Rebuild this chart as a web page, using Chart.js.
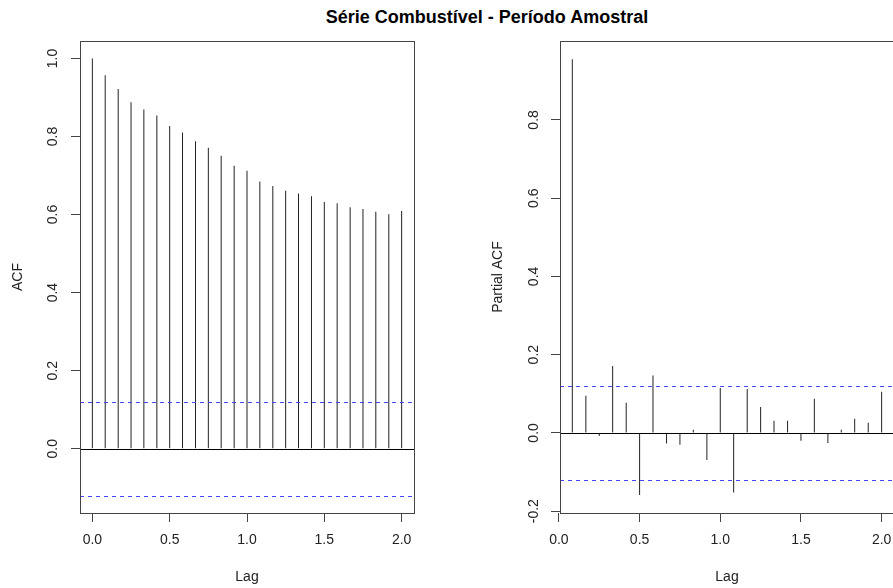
<!DOCTYPE html>
<html>
<head>
<meta charset="utf-8">
<script src="https://cdn.jsdelivr.net/npm/chart.js@4/dist/chart.umd.min.js"></script>
<style>
  html, body { margin: 0; padding: 0; background: #fff; overflow: hidden; }
  body { width: 893px; height: 588px; position: relative; }
  #title {
    position: absolute; left: 287px; width: 400px; top: 7px;
    text-align: center; font: bold 18px "Liberation Sans", Arial, sans-serif; color: #000;
  }
  #left { position: absolute; left: 0; top: 0; }
  #right { position: absolute; left: 446px; top: 0; }
</style>
</head>
<body>
<div id="title">Série Combustível - Período Amostral</div>
<canvas id="left" width="446" height="588"></canvas>
<canvas id="right" width="460" height="588"></canvas>
<script>
// lags in years (monthly series)
const acfLags = [0.000, 0.083, 0.167, 0.250, 0.333, 0.417, 0.500, 0.583, 0.667, 0.750, 0.833, 0.917,
  1.000, 1.083, 1.167, 1.250, 1.333, 1.417, 1.500, 1.583, 1.667, 1.750, 1.833, 1.917, 2.000];
const acfValues = [1.000, 0.957, 0.922, 0.888, 0.869, 0.854, 0.827, 0.810, 0.788, 0.771, 0.751, 0.725,
  0.712, 0.685, 0.673, 0.661, 0.654, 0.647, 0.632, 0.629, 0.619, 0.614, 0.607, 0.601, 0.609];

const pacfLags = acfLags.slice(1);
const pacfValues = [0.955, 0.095, -0.008, 0.171, 0.077, -0.159, 0.147, -0.027, -0.030, 0.008, -0.069, 0.115,
  -0.152, 0.112, 0.066, 0.031, 0.031, -0.020, 0.087, -0.026, 0.008, 0.036, 0.026, 0.105];

const confLimits = [0.12, -0.12];
const xTicks = [0, 0.5, 1, 1.5, 2];
const acfYTicks = [0, 0.2, 0.4, 0.6, 0.8, 1.0];
const pacfYTicks = [-0.2, 0, 0.2, 0.4, 0.6, 0.8];

const FONT = '"Liberation Sans", Arial, sans-serif';
const INK = '#222';

function makePanel(id, lags, values, opts) {
  const ctx = document.getElementById(id).getContext("2d");

  // zero line + confidence bands, box, rotated y labels (R style)
  const frame = {
    id: "frame",
    beforeDatasetsDraw(chart) {
      const c = chart.ctx, a = chart.chartArea, ys = chart.scales.y;
      c.save();
      c.lineWidth = 1;
      c.strokeStyle = "#000";
      const y0 = Math.round(ys.getPixelForValue(0)) + 0.5;
      c.beginPath(); c.moveTo(a.left, y0); c.lineTo(a.right, y0); c.stroke();
      c.restore();
    },
    afterDatasetsDraw(chart) {
      const c = chart.ctx, a = chart.chartArea, ys = chart.scales.y;
      c.save();
      c.lineWidth = 1;
      c.strokeStyle = "#4646ff";
      c.setLineDash([4, 4]);
      confLimits.forEach(v => {
        const y = Math.round(ys.getPixelForValue(v)) + 0.5;
        c.beginPath(); c.moveTo(a.left, y); c.lineTo(a.right, y); c.stroke();
      });
      c.restore();
    },
    afterDraw(chart) {
      const c = chart.ctx, a = chart.chartArea, ys = chart.scales.y;
      c.save();
      c.strokeStyle = "#444";
      c.lineWidth = 1;
      c.strokeRect(Math.round(a.left) + 0.5, Math.round(a.top) + 0.5,
        Math.round(a.right - a.left), Math.round(a.bottom - a.top));
      c.fillStyle = INK;
      c.font = "14px " + FONT;
      c.textAlign = "center";
      c.textBaseline = "middle";
      opts.yTicks.forEach(v => {
        c.save();
        c.translate(opts.yLabelX, ys.getPixelForValue(v));
        c.rotate(-Math.PI / 2);
        c.fillText(v.toFixed(1), 0, 0);
        c.restore();
      });
      c.save();
      c.translate(opts.yTitleX, (a.top + a.bottom) / 2);
      c.rotate(-Math.PI / 2);
      c.fillText(opts.yTitle, 0, 0);
      c.restore();
      c.fillText("Lag", (a.left + a.right) / 2, 577);
      c.restore();
    }
  };

  return new Chart(ctx, {
    type: "bar",
    data: {
      datasets: [{
        data: lags.map((x, i) => ({ x: x, y: values[i] })),
        backgroundColor: INK,
        barThickness: 1,
        inflateAmount: 0
      }]
    },
    options: {
      responsive: false,
      animation: false,
      devicePixelRatio: 1,
      layout: { padding: { top: 41, right: opts.padRight, left: 0, bottom: 0 } },
      plugins: { legend: { display: false }, tooltip: { enabled: false } },
      scales: {
        x: {
          type: "linear", min: opts.xmin, max: opts.xmax, offset: false,
          afterBuildTicks: s => { s.ticks = xTicks.map(v => ({ value: v })); },
          afterFit: s => { s.height = 75; },
          grid: { offset: false, drawOnChartArea: false, drawTicks: true, tickLength: 9, color: "#444" },
          border: { display: false },
          ticks: {
            color: INK, font: { size: 14, family: FONT }, padding: 10, maxRotation: 0,
            callback: v => v.toFixed(1)
          }
        },
        y: {
          min: opts.ymin, max: opts.ymax,
          afterBuildTicks: s => { s.ticks = opts.yTicks.map(v => ({ value: v })); },
          afterFit: s => { s.width = opts.yWidth; },
          grid: { drawOnChartArea: false, drawTicks: true, tickLength: 9, color: "#444" },
          border: { display: false },
          ticks: { display: false }
        }
      }
    },
    plugins: [frame]
  });
}

makePanel("left", acfLags, acfValues, {
  xmin: -0.08, xmax: 2.08, ymin: -0.1648, ymax: 1.0448,
  yTicks: acfYTicks, yWidth: 80, padRight: 32,
  yLabelX: 53.5, yTitleX: 18, yTitle: "ACF"
});

makePanel("right", pacfLags, pacfValues, {
  xmin: 0.0067, xmax: 2.0767, ymin: -0.2047, ymax: 1.0017,
  yTicks: pacfYTicks, yWidth: 114, padRight: 12,
  yLabelX: 87.7, yTitleX: 52, yTitle: "Partial ACF"
});
</script>
</body>
</html>
